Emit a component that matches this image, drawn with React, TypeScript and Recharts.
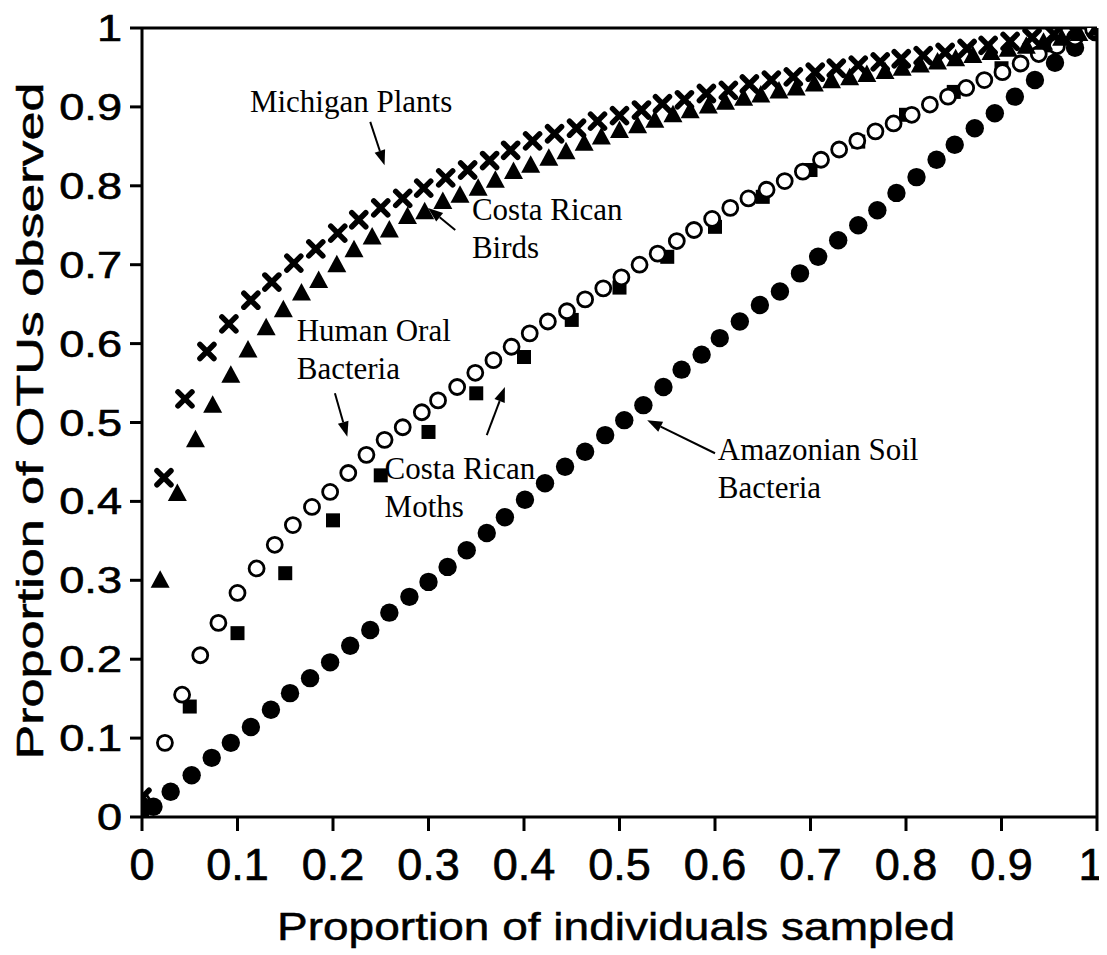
import React from 'react';
import { ReferenceDot, ReferenceLine, Scatter, ScatterChart, XAxis, YAxis } from 'recharts';

const SANS = '"Liberation Sans", Arial, sans-serif';
const SERIF = '"Liberation Serif", "Times New Roman", serif';

// axis ticks
const tickValues = [0, 0.1, 0.2, 0.3, 0.4, 0.5, 0.6, 0.7, 0.8, 0.9, 1];
const tickLabels = ['0', '0.1', '0.2', '0.3', '0.4', '0.5', '0.6', '0.7', '0.8', '0.9', '1'];

// Michigan Plants (crosses)
const plantsX = [
  0, 0.023, 0.045, 0.068, 0.091, 0.114, 0.136, 0.159, 0.182, 0.205, 0.227, 0.25, 0.273, 0.295, 0.318,
  0.341, 0.364, 0.386, 0.409, 0.432, 0.455, 0.477, 0.5, 0.523, 0.545, 0.568, 0.591, 0.614, 0.636, 0.659,
  0.682, 0.705, 0.727, 0.75, 0.773, 0.795, 0.818, 0.841, 0.864, 0.886, 0.909, 0.932, 0.955, 0.977, 1,
];
const plantsY = [
  0.025, 0.43, 0.53, 0.59, 0.625, 0.655, 0.678, 0.702, 0.72, 0.74, 0.757, 0.772, 0.784, 0.797, 0.81,
  0.82, 0.832, 0.845, 0.857, 0.866, 0.873, 0.882, 0.889, 0.896, 0.904, 0.909, 0.917, 0.921, 0.929, 0.934,
  0.938, 0.944, 0.949, 0.953, 0.957, 0.961, 0.965, 0.969, 0.974, 0.978, 0.983, 0.988, 0.992, 0.996, 1,
];

// Costa Rican Birds (triangles)
const birdsX = [
  0, 0.019, 0.037, 0.056, 0.074, 0.093, 0.111, 0.13, 0.148, 0.167, 0.185, 0.204, 0.222, 0.241, 0.259,
  0.278, 0.296, 0.315, 0.333, 0.352, 0.37, 0.389, 0.407, 0.426, 0.444, 0.463, 0.481, 0.5, 0.519, 0.537,
  0.556, 0.574, 0.593, 0.611, 0.63, 0.648, 0.667, 0.685, 0.704, 0.722, 0.741, 0.759, 0.778, 0.796, 0.815,
  0.833, 0.852, 0.87, 0.889, 0.907, 0.926, 0.944, 0.963, 0.981, 1,
];
const birdsY = [
  0.02, 0.3, 0.41, 0.478, 0.522, 0.56, 0.592, 0.62, 0.643, 0.664, 0.68, 0.7, 0.719, 0.735, 0.744,
  0.761, 0.767, 0.78, 0.788, 0.797, 0.807, 0.818, 0.826, 0.835, 0.843, 0.854, 0.862, 0.87, 0.876, 0.883,
  0.89, 0.895, 0.901, 0.906, 0.911, 0.915, 0.92, 0.924, 0.929, 0.933, 0.937, 0.941, 0.945, 0.949, 0.953,
  0.957, 0.961, 0.965, 0.969, 0.973, 0.977, 0.982, 0.987, 0.993, 1,
];

// Human Oral Bacteria (open circles)
const oralX = [
  0, 0.024, 0.042, 0.061, 0.08, 0.1, 0.12, 0.139, 0.158, 0.178, 0.197, 0.216, 0.235, 0.254, 0.273, 0.293,
  0.31, 0.33, 0.349, 0.368, 0.387, 0.406, 0.425, 0.445, 0.464, 0.483, 0.502, 0.521, 0.54, 0.56, 0.578,
  0.597, 0.616, 0.635, 0.654, 0.673, 0.692, 0.711, 0.73, 0.749, 0.768, 0.787, 0.806, 0.825, 0.844, 0.863,
  0.882, 0.901, 0.92, 0.939, 0.958, 0.977, 0.996,
];
const oralY = [
  0.02, 0.094, 0.155, 0.205, 0.246, 0.284, 0.315, 0.345, 0.37, 0.393, 0.412, 0.436, 0.459, 0.478, 0.494, 0.513,
  0.528, 0.545, 0.563, 0.579, 0.596, 0.613, 0.628, 0.641, 0.656, 0.67, 0.684, 0.7, 0.714, 0.73, 0.744,
  0.758, 0.772, 0.784, 0.795, 0.806, 0.818, 0.833, 0.846, 0.857, 0.869, 0.879, 0.89, 0.903, 0.913, 0.924,
  0.934, 0.944, 0.955, 0.967, 0.977, 0.988, 0.998,
];

// Costa Rican Moths (filled squares)
const mothsX = [
  0, 0.05, 0.1, 0.15, 0.2, 0.25, 0.3, 0.35, 0.4, 0.45, 0.5, 0.55, 0.6, 0.65, 0.7, 0.75, 0.8, 0.85, 0.9, 0.95, 1,
];
const mothsY = [
  0.01, 0.14, 0.233, 0.309, 0.376, 0.433, 0.488, 0.537, 0.583, 0.63, 0.671, 0.71, 0.748, 0.786, 0.82, 0.856,
  0.89, 0.919, 0.949, 0.978, 1,
];

// Amazonian Soil Bacteria (filled circles)
const soilX = [
  0.012, 0.03, 0.052, 0.073, 0.093, 0.114, 0.135, 0.155, 0.176, 0.197, 0.218, 0.239, 0.259, 0.28, 0.3, 0.32,
  0.34, 0.361, 0.38, 0.401, 0.422, 0.443, 0.464, 0.485, 0.505, 0.525, 0.546, 0.565, 0.586, 0.605, 0.626,
  0.647, 0.668, 0.689, 0.708, 0.729, 0.75, 0.77, 0.79, 0.811, 0.832, 0.851, 0.872, 0.893, 0.914, 0.935,
  0.956, 0.977, 0.998,
];
const soilY = [
  0.013, 0.032, 0.053, 0.075, 0.094, 0.114, 0.136, 0.157, 0.176, 0.196, 0.217, 0.237, 0.259, 0.279, 0.298, 0.317,
  0.338, 0.36, 0.38, 0.402, 0.423, 0.444, 0.463, 0.484, 0.503, 0.522, 0.545, 0.567, 0.586, 0.607, 0.628,
  0.649, 0.666, 0.689, 0.71, 0.731, 0.75, 0.769, 0.791, 0.811, 0.833, 0.852, 0.873, 0.892, 0.913, 0.934,
  0.956, 0.975, 0.995,
];

const toPoints = (xs: number[], ys: number[]) => xs.map((x, i) => ({ x, y: ys[i] }));

// annotation text (left edge x, first baseline y) and arrows (from -> to, head at "to")
const notes = [
  { x: 0.113, y: 0.893, lines: ['Michigan Plants'] },
  { x: 0.3455, y: 0.757, lines: ['Costa Rican', 'Birds'] },
  { x: 0.162, y: 0.603, lines: ['Human Oral', 'Bacteria'] },
  { x: 0.254, y: 0.428, lines: ['Costa Rican', 'Moths'] },
  { x: 0.603, y: 0.453, lines: ['Amazonian Soil', 'Bacteria'] },
];
const arrows = [
  { x1: 0.239, y1: 0.881, x2: 0.254, y2: 0.826 },
  { x1: 0.328, y1: 0.744, x2: 0.2995, y2: 0.772 },
  { x1: 0.202, y1: 0.537, x2: 0.215, y2: 0.482 },
  { x1: 0.361, y1: 0.484, x2: 0.38, y2: 0.545 },
  { x1: 0.6, y1: 0.461, x2: 0.529, y2: 0.503 },
];

type ShapeProps = { cx?: number; cy?: number };

const CrossShape = ({ cx = 0, cy = 0 }: ShapeProps) => (
  <path
    d={`M${cx - 7},${cy - 7}L${cx + 7},${cy + 7}M${cx + 7},${cy - 7}L${cx - 7},${cy + 7}`}
    stroke="#000"
    strokeWidth={5.5}
    strokeLinecap="round"
  />
);

const TriangleShape = ({ cx = 0, cy = 0 }: ShapeProps) => (
  <polygon points={`${cx},${cy - 10} ${cx + 9.5},${cy + 7.5} ${cx - 9.5},${cy + 7.5}`} fill="#000" />
);

const OpenCircleShape = ({ cx = 0, cy = 0 }: ShapeProps) => (
  <circle cx={cx} cy={cy} r={7.5} fill="#fff" stroke="#000" strokeWidth={2.8} />
);

const SquareShape = ({ cx = 0, cy = 0 }: ShapeProps) => (
  <rect x={cx - 7} y={cy - 7} width={14} height={14} fill="#000" />
);

const DotShape = ({ cx = 0, cy = 0 }: ShapeProps) => <circle cx={cx} cy={cy} r={9.2} fill="#000" />;

type TickProps = { x?: number; y?: number; payload?: { value: number } };

const labelFor = (v: number) => tickLabels[tickValues.indexOf(v)] ?? String(v);

const XTick = ({ x = 0, y = 0, payload }: TickProps) => {
  const v = payload?.value ?? 0;
  return (
    <text
      x={x}
      y={y}
      dy={32}
      dx={v === 1 ? -6 : 0}
      textAnchor="middle"
      fontFamily={SANS}
      fontSize={45}
      fill="#000"
      stroke="#000"
      strokeWidth={0.7}
    >
      {labelFor(v)}
    </text>
  );
};

const YTick = ({ x = 0, y = 0, payload }: TickProps) => (
  <text
    transform={`translate(${x},${y + 13}) scale(1.22,1)`}
    textAnchor="end"
    fontFamily={SANS}
    fontSize={37}
    fill="#000"
    stroke="#000"
    strokeWidth={0.6}
  >
    {labelFor(payload?.value ?? 0)}
  </text>
);

type LineShapeProps = { x1?: number; y1?: number; x2?: number; y2?: number };

const ArrowShape = ({ x1 = 0, y1 = 0, x2 = 0, y2 = 0 }: LineShapeProps) => {
  const ang = Math.atan2(y2 - y1, x2 - x1);
  const len = 15;
  const half = 5.5;
  const bx = x2 - len * Math.cos(ang);
  const by = y2 - len * Math.sin(ang);
  const px = -Math.sin(ang) * half;
  const py = Math.cos(ang) * half;
  return (
    <g>
      <line x1={x1} y1={y1} x2={bx} y2={by} stroke="#000" strokeWidth={2} />
      <polygon points={`${x2},${y2} ${bx + px},${by + py} ${bx - px},${by - py}`} fill="#000" />
    </g>
  );
};

const noteShape = (lines: string[]) => (props: ShapeProps) => (
  <text x={props.cx} y={props.cy} fontFamily={SERIF} fontSize={31} fill="#000">
    {lines.map((l, i) => (
      <tspan key={l} x={props.cx} dy={i === 0 ? 0 : 38}>
        {l}
      </tspan>
    ))}
  </text>
);

export default function App() {
  return (
    <div style={{ width: 1099, height: 947, background: '#fff' }}>
      <ScatterChart width={1099} height={947} margin={{ top: 20, right: 10, left: 0, bottom: 0 }}>
        <XAxis
          type="number"
          dataKey="x"
          domain={[0, 1]}
          ticks={tickValues}
          height={138}
          tickSize={14}
          tickMargin={17}
          tick={<XTick />}
          axisLine={{ stroke: '#000', strokeWidth: 3 }}
          tickLine={{ stroke: '#000', strokeWidth: 3 }}
          allowDataOverflow
        />
        <YAxis
          type="number"
          dataKey="y"
          domain={[0, 1]}
          ticks={tickValues}
          width={134}
          tickSize={12}
          tickMargin={8}
          tick={<YTick />}
          axisLine={{ stroke: '#000', strokeWidth: 3 }}
          tickLine={{ stroke: '#000', strokeWidth: 3 }}
          allowDataOverflow
        />
        <ReferenceLine y={1} stroke="#000" strokeWidth={3} ifOverflow="visible" />
        <ReferenceLine x={1} stroke="#000" strokeWidth={3} ifOverflow="visible" />
        <Scatter name="Amazonian Soil Bacteria" data={toPoints(soilX, soilY)} shape={DotShape} isAnimationActive={false} />
        <Scatter name="Costa Rican Moths" data={toPoints(mothsX, mothsY)} shape={SquareShape} isAnimationActive={false} />
        <Scatter name="Human Oral Bacteria" data={toPoints(oralX, oralY)} shape={OpenCircleShape} isAnimationActive={false} />
        <Scatter name="Costa Rican Birds" data={toPoints(birdsX, birdsY)} shape={TriangleShape} isAnimationActive={false} />
        <Scatter name="Michigan Plants" data={toPoints(plantsX, plantsY)} shape={CrossShape} isAnimationActive={false} />
        {arrows.map((a, i) => (
          <ReferenceLine
            key={`arrow-${i}`}
            segment={[
              { x: a.x1, y: a.y1 },
              { x: a.x2, y: a.y2 },
            ]}
            shape={ArrowShape}
            ifOverflow="visible"
          />
        ))}
        {notes.map((n, i) => (
          <ReferenceDot key={`note-${i}`} x={n.x} y={n.y} r={0} shape={noteShape(n.lines)} ifOverflow="visible" />
        ))}
        <text
          transform="translate(35,413) rotate(-90)"
          textAnchor="middle"
          fontFamily={SANS}
          fontSize={36}
          fill="#000"
          stroke="#000"
          strokeWidth={0.5}
          textLength={677}
          lengthAdjust="spacingAndGlyphs"
        >
          Proportion of OTUs observed
        </text>
        <text
          x={608}
          y={932}
          textAnchor="middle"
          fontFamily={SANS}
          fontSize={39}
          fill="#000"
          stroke="#000"
          strokeWidth={0.5}
          textLength={678}
          lengthAdjust="spacingAndGlyphs"
        >
          Proportion of individuals sampled
        </text>
      </ScatterChart>
    </div>
  );
}
